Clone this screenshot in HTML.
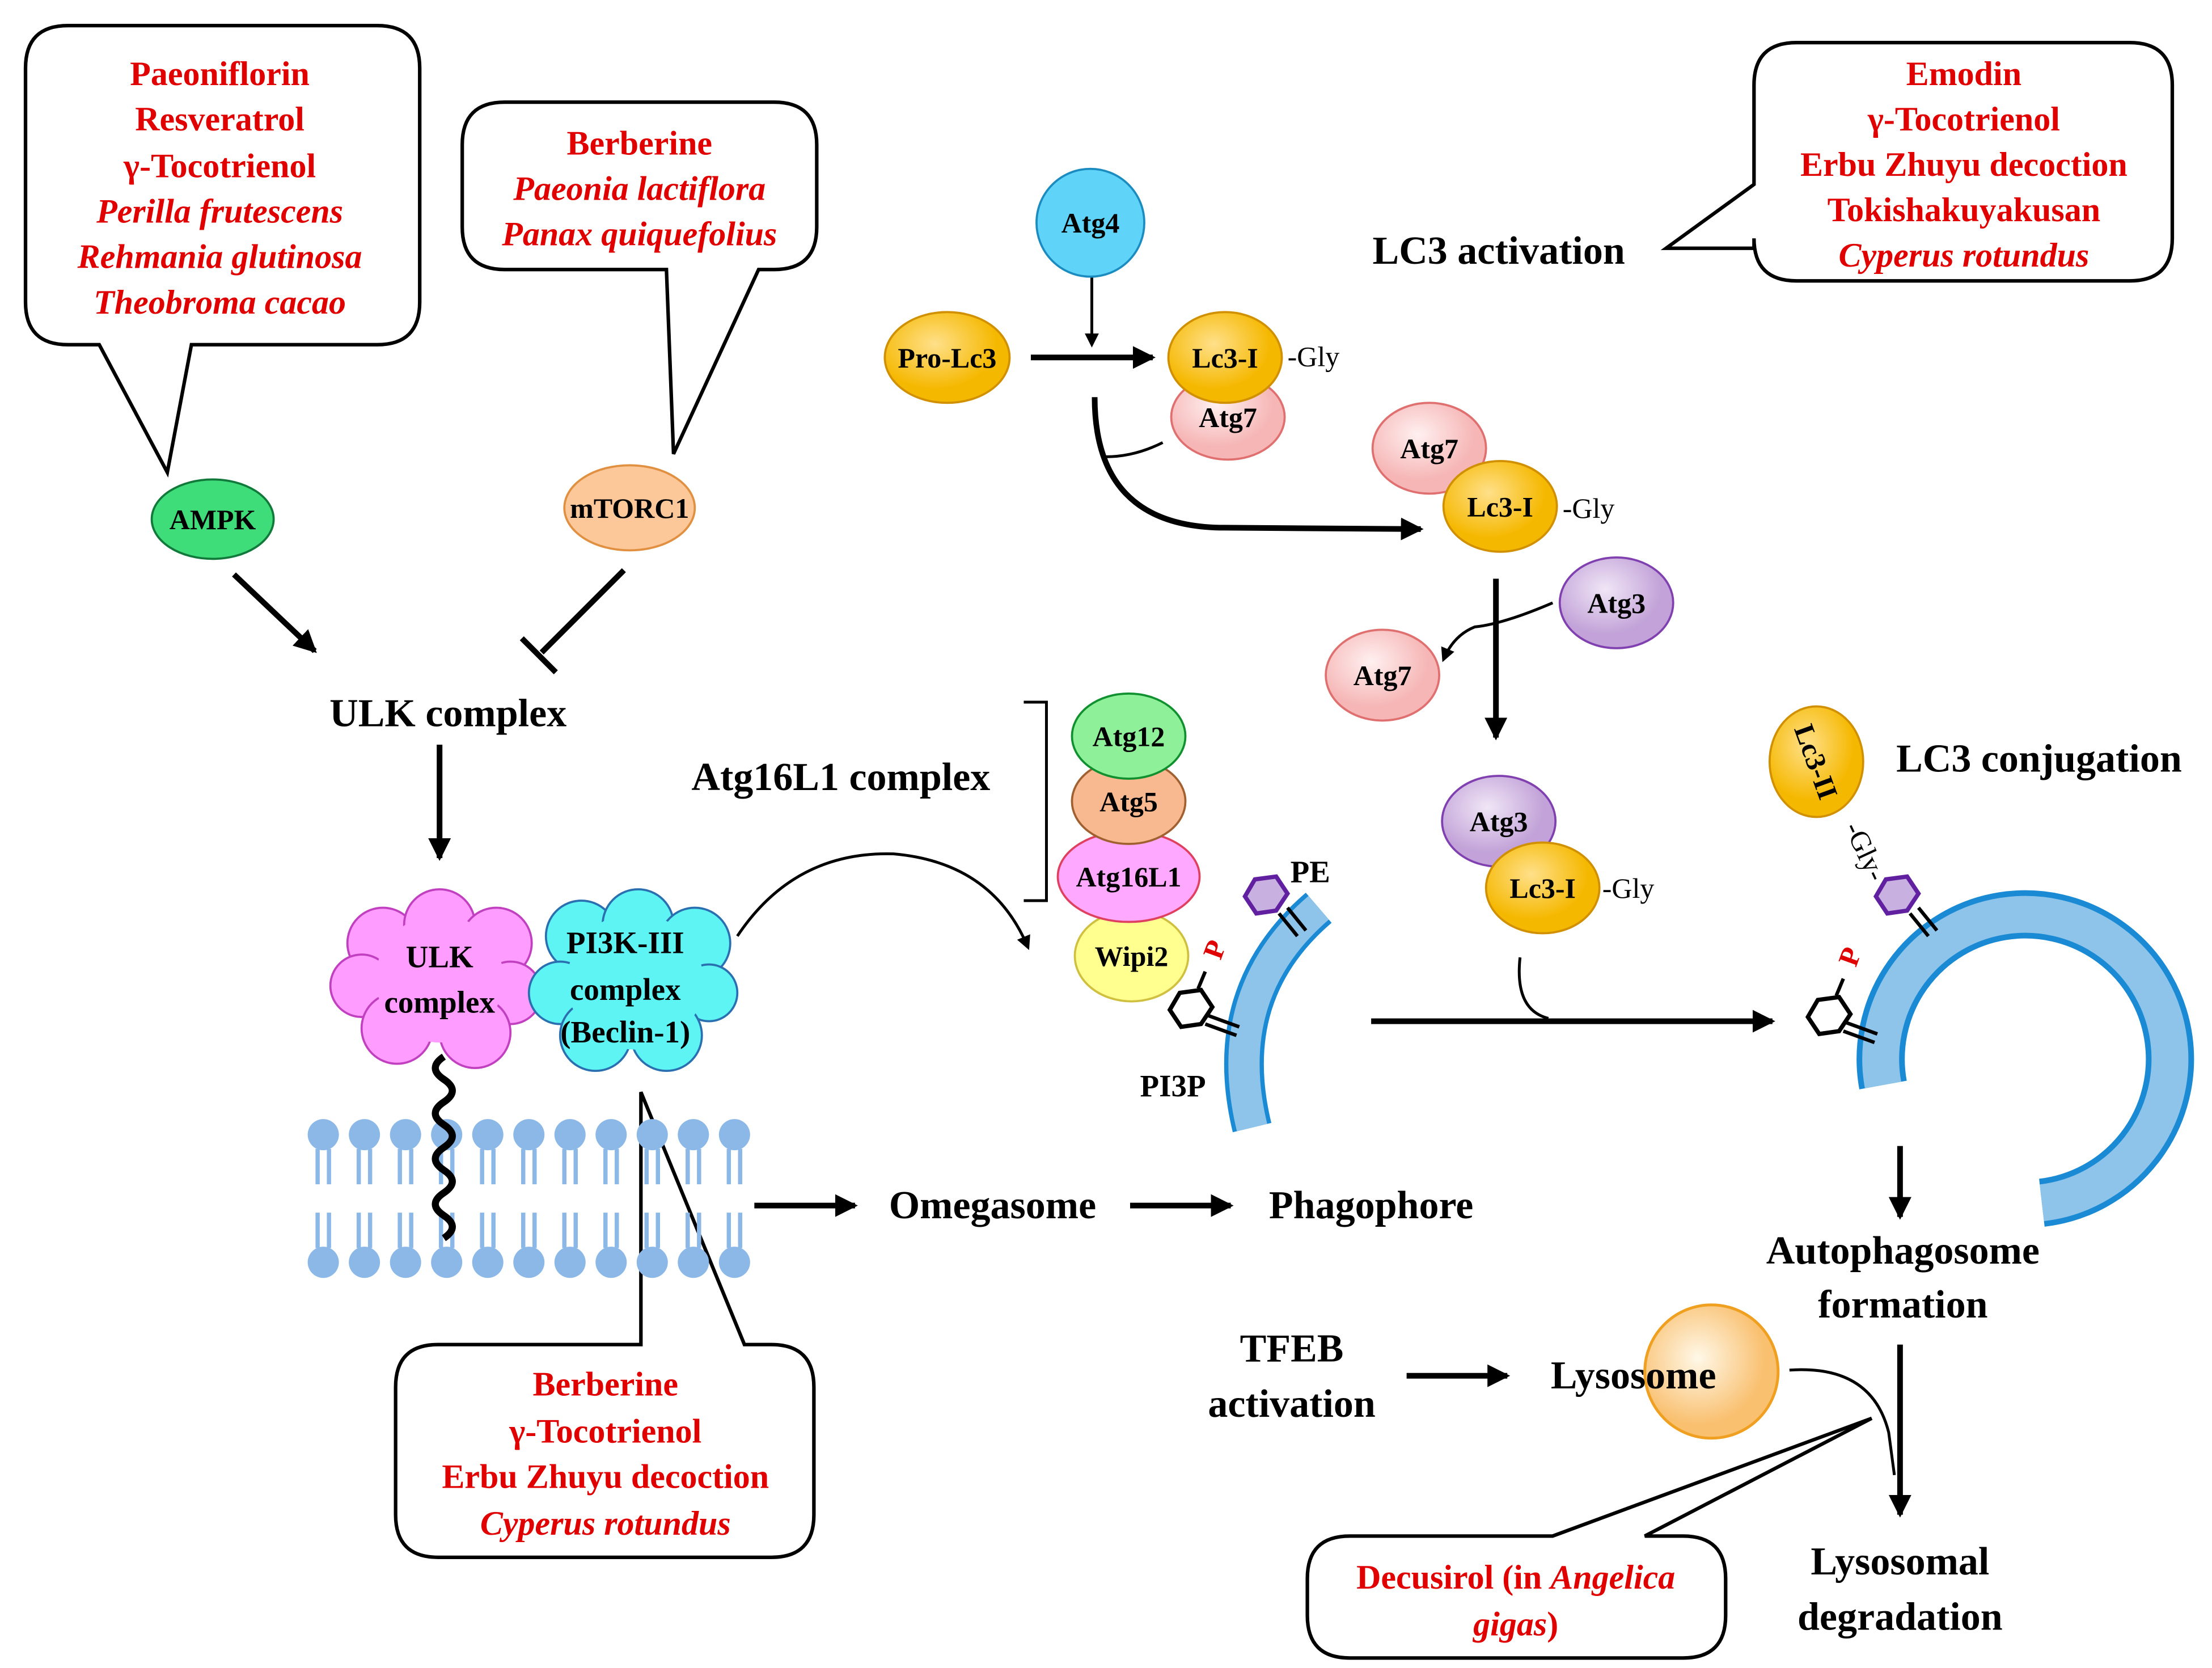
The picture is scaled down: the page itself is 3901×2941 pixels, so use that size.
<!DOCTYPE html>
<html><head><meta charset="utf-8"><style>html,body{margin:0;padding:0;background:#fff}svg{display:block}svg text{font-family:"Liberation Serif","DejaVu Serif",serif;font-weight:bold}</style></head>
<body>
<svg width="3901" height="2941" viewBox="0 0 1560 1176" xmlns="http://www.w3.org/2000/svg">
<defs>
<marker id="ah" markerWidth="10" markerHeight="10" refX="8" refY="5" orient="auto" markerUnits="userSpaceOnUse"><path d="M0,0 L10,5 L0,10 z" fill="#000"/></marker>
<marker id="ahs" markerWidth="16" markerHeight="16" refX="14" refY="8" orient="auto" markerUnits="userSpaceOnUse"><path d="M0,0 L16,8 L0,16 z" fill="#000"/></marker>
<radialGradient id="gOr" cx="40%" cy="35%"><stop offset="0" stop-color="#ffe08a"/><stop offset="1" stop-color="#f5b800"/></radialGradient>
<radialGradient id="gPk" cx="40%" cy="35%"><stop offset="0" stop-color="#fff0f0"/><stop offset="1" stop-color="#f6b6b6"/></radialGradient>
<radialGradient id="gPu" cx="40%" cy="35%"><stop offset="0" stop-color="#f0e6f6"/><stop offset="1" stop-color="#c2a2d8"/></radialGradient>
<radialGradient id="gLy" cx="40%" cy="40%"><stop offset="0" stop-color="#fff8e8"/><stop offset="1" stop-color="#f9c070"/></radialGradient>
</defs>
<g fill="none" stroke="#000" stroke-width="2.5">
<path d="M48,18 H266 Q296,18 296,48 V213 Q296,243 266,243 H135 L118,333 L70,243 H48 Q18,243 18,213 V48 Q18,18 48,18 Z" fill="#fff"/>
<path d="M356,72 H546 Q576,72 576,102 V160 Q576,190 546,190 H535 L475,320 L470,190 H356 Q326,190 326,160 V102 Q326,72 356,72 Z" fill="#fff"/>
<path d="M1267,30 H1502 Q1532,30 1532,60 V168 Q1532,198 1502,198 H1267 Q1237,198 1237,168 V175 L1175,175 L1237,130 V60 Q1237,30 1267,30 Z" fill="#fff"/>
<path d="M309,948 H452 V770 L525,948 H544 Q574,948 574,978 V1068 Q574,1098 544,1098 H309 Q279,1098 279,1068 V978 Q279,948 309,948 Z" fill="#fff"/>
<path d="M952,1083 H1095 L1320,1000 L1160,1083 H1187 Q1217,1083 1217,1113 V1139 Q1217,1169 1187,1169 H952 Q922,1169 922,1139 V1113 Q922,1083 952,1083 Z" fill="#fff"/>
</g>
<g fill="#e00000" font-size="24" text-anchor="middle">
<text x="155" y="60">Paeoniflorin</text><text x="155" y="92">Resveratrol</text><text x="155" y="125">γ-Tocotrienol</text>
<text x="155" y="157" font-style="italic">Perilla frutescens</text><text x="155" y="189" font-style="italic">Rehmania glutinosa</text><text x="155" y="221" font-style="italic">Theobroma cacao</text>
<text x="451" y="109">Berberine</text><text x="451" y="141" font-style="italic">Paeonia lactiflora</text><text x="451" y="173" font-style="italic">Panax quiquefolius</text>
<text x="1385" y="60">Emodin</text><text x="1385" y="92">γ-Tocotrienol</text><text x="1385" y="124">Erbu Zhuyu decoction</text><text x="1385" y="156">Tokishakuyakusan</text><text x="1385" y="188" font-style="italic">Cyperus rotundus</text>
<text x="427" y="984">Berberine</text><text x="427" y="1017">γ-Tocotrienol</text><text x="427" y="1049">Erbu Zhuyu decoction</text><text x="427" y="1082" font-style="italic">Cyperus rotundus</text>
<text x="1069" y="1120">Decusirol (in <tspan font-style="italic">Angelica</tspan></text><text x="1069" y="1153" font-style="italic">gigas<tspan font-style="normal">)</tspan></text>
</g>
<g font-size="28" text-anchor="middle" fill="#000">
<text x="1057" y="186">LC3 activation</text>
<text x="316" y="512">ULK complex</text>
<text x="593" y="557">Atg16L1 complex</text>
<text x="700" y="859">Omegasome</text>
<text x="967" y="859">Phagophore</text>
<text x="1438" y="544">LC3 conjugation</text>
<text x="1342" y="891">Autophagosome</text><text x="1342" y="929">formation</text>
<text x="911" y="960">TFEB</text><text x="911" y="999">activation</text>
<text x="1340" y="1110">Lysosomal</text><text x="1340" y="1149">degradation</text>
</g>
<g stroke="#000" stroke-width="4" fill="none">
<line x1="165" y1="405" x2="222" y2="459" marker-end="url(#ahs)"/>
<line x1="440" y1="402" x2="382" y2="460"/><line x1="368" y1="450" x2="392" y2="474"/>
<line x1="310" y1="525" x2="310" y2="605" marker-end="url(#ahs)"/>
<line x1="532" y1="850" x2="603" y2="850" marker-end="url(#ahs)"/>
<line x1="797" y1="850" x2="868" y2="850" marker-end="url(#ahs)"/>
<line x1="727" y1="252" x2="813" y2="252" marker-end="url(#ahs)"/>
<path d="M772,280 Q772,370 860,372 L1002,373" marker-end="url(#ahs)"/>
<line x1="1055" y1="408" x2="1055" y2="520" marker-end="url(#ahs)"/>
<line x1="967" y1="720" x2="1250" y2="720" marker-end="url(#ahs)"/>
<line x1="1340" y1="808" x2="1340" y2="858" marker-end="url(#ahs)"/>
<line x1="992" y1="970" x2="1063" y2="970" marker-end="url(#ahs)"/>
<line x1="1340" y1="948" x2="1340" y2="1068" marker-end="url(#ahs)"/>
</g>
<g stroke="#000" stroke-width="2" fill="none">
<line x1="770" y1="195" x2="770" y2="243" marker-end="url(#ah)"/>
<path d="M780,322 Q800,322 820,312"/>
<path d="M1095,425 Q1060,440 1040,442 Q1025,448 1018,465" marker-end="url(#ah)"/>
<path d="M1072,675 Q1068,712 1092,718"/>
<path d="M520,660 Q560,600 630,602 Q700,608 725,668" marker-end="url(#ah)"/>
<path d="M1262,966 Q1320,962 1332,1010 L1336,1040"/>
<path d="M722,495 H738 V635 H722"/>
</g>
<g stroke="#8cb8e8" stroke-width="3" fill="#8cb8e8">
<g id="lip"><circle cx="228" cy="800" r="11" stroke="none"/><line x1="224" y1="810" x2="224" y2="835"/><line x1="232" y1="810" x2="232" y2="835"/><circle cx="228" cy="890" r="11" stroke="none"/><line x1="224" y1="855" x2="224" y2="880"/><line x1="232" y1="855" x2="232" y2="880"/></g>
<use href="#lip" x="29"/><use href="#lip" x="58"/><use href="#lip" x="87"/><use href="#lip" x="116"/><use href="#lip" x="145"/><use href="#lip" x="174"/><use href="#lip" x="203"/><use href="#lip" x="232"/><use href="#lip" x="261"/><use href="#lip" x="290"/>
</g>
<path d="M313,745 q-12,8 0,16 q12,8 0,16 q-12,8 0,16 q12,8 0,16 q-12,8 0,16 q12,8 0,16 q-12,8 0,16 q12,8 0,16" stroke="#000" stroke-width="5" fill="none"/>
<g stroke="#c040c0" stroke-width="1.5" fill="#ff9cff">
<circle cx="270" cy="665" r="25"/><circle cx="310" cy="652" r="25"/><circle cx="350" cy="665" r="25"/><circle cx="255" cy="695" r="22"/><circle cx="360" cy="700" r="22"/><circle cx="280" cy="725" r="25"/><circle cx="335" cy="728" r="25"/><circle cx="310" cy="690" r="45" stroke="none"/>
</g>
<g stroke="#2a70b0" stroke-width="1.5" fill="#5ff4f4">
<circle cx="410" cy="660" r="25"/><circle cx="450" cy="652" r="25"/><circle cx="490" cy="665" r="25"/><circle cx="395" cy="700" r="22"/><circle cx="500" cy="700" r="20"/><circle cx="420" cy="730" r="25"/><circle cx="470" cy="730" r="25"/><circle cx="448" cy="692" r="48" stroke="none"/>
</g>
<g font-size="22" text-anchor="middle"><text x="310" y="682">ULK</text><text x="310" y="714">complex</text>
<text x="441" y="672">PI3K-III</text><text x="441" y="705">complex</text><text x="441" y="735">(Beclin-1)</text></g>
<g stroke-width="1.5" font-size="20" text-anchor="middle">
<ellipse cx="150" cy="366" rx="43" ry="28" fill="#3fdc7a" stroke="#117a3a"/><text x="150" y="373">AMPK</text>
<ellipse cx="444" cy="358" rx="46" ry="30" fill="#fcc89a" stroke="#e09040"/><text x="444" y="365">mTORC1</text>
<ellipse cx="769" cy="157" rx="38" ry="38" fill="#5fd4f8" stroke="#1c8cc0"/><text x="769" y="164">Atg4</text>
<ellipse cx="668" cy="252" rx="44" ry="32" fill="url(#gOr)" stroke="#d09000"/><text x="668" y="259">Pro-Lc3</text>
<ellipse cx="866" cy="294" rx="40" ry="30" fill="url(#gPk)" stroke="#e07070"/><text x="866" y="301">Atg7</text>
<ellipse cx="864" cy="252" rx="40" ry="32" fill="url(#gOr)" stroke="#d09000"/><text x="864" y="259">Lc3-I</text>
<ellipse cx="1008" cy="316" rx="40" ry="32" fill="url(#gPk)" stroke="#e07070"/><text x="1008" y="323">Atg7</text>
<ellipse cx="1058" cy="357" rx="40" ry="32" fill="url(#gOr)" stroke="#d09000"/><text x="1058" y="364">Lc3-I</text>
<ellipse cx="1140" cy="425" rx="40" ry="32" fill="url(#gPu)" stroke="#8040b0"/><text x="1140" y="432">Atg3</text>
<ellipse cx="975" cy="476" rx="40" ry="32" fill="url(#gPk)" stroke="#e07070"/><text x="975" y="483">Atg7</text>
<ellipse cx="1057" cy="579" rx="40" ry="32" fill="url(#gPu)" stroke="#8040b0"/><text x="1057" y="586">Atg3</text>
<ellipse cx="1088" cy="626" rx="40" ry="32" fill="url(#gOr)" stroke="#d09000"/><text x="1088" y="633">Lc3-I</text>
<ellipse cx="798" cy="674" rx="40" ry="32" fill="#ffff90" stroke="#d0c040"/><text x="798" y="681">Wipi2</text>
<ellipse cx="796" cy="618" rx="50" ry="32" fill="#ffa8ff" stroke="#e04060"/><text x="796" y="625">Atg16L1</text>
<ellipse cx="796" cy="565" rx="40" ry="30" fill="#f8b890" stroke="#a06030"/><text x="796" y="572">Atg5</text>
<ellipse cx="796" cy="519" rx="40" ry="30" fill="#8ff09a" stroke="#119030"/><text x="796" y="526">Atg12</text>
<ellipse cx="1281" cy="537" rx="33" ry="39" fill="url(#gOr)" stroke="#d09000"/><text x="1281" y="544" transform="rotate(70 1281 537)">Lc3-II</text>
</g>
<g font-weight="normal" font-size="20"><text x="908" y="258" style="font-weight:normal">-Gly</text><text x="1102" y="365" style="font-weight:normal">-Gly</text><text x="1130" y="633" style="font-weight:normal">-Gly</text>
<text x="1316" y="607" text-anchor="middle" transform="rotate(65 1316 600)" style="font-weight:normal">-Gly-</text></g>
<path d="M883,795 Q860,700 930,640" stroke="#1a8ad4" stroke-width="28" fill="none"/>
<path d="M883,795 Q860,700 930,640" stroke="#8ec4ea" stroke-width="22" fill="none"/>
<path d="M1328,765 A102,102 0 1 1 1440,848" stroke="#1a8ad4" stroke-width="34" fill="none"/>
<path d="M1328,765 A102,102 0 1 1 1440,848" stroke="#8ec4ea" stroke-width="26" fill="none"/>
<g stroke="#6020a0" stroke-width="3" fill="#c8b0e0">
<polygon points="885,620 900,618 908,630 900,642 886,644 878,632"/>
<polygon points="1330,620 1345,618 1353,630 1345,642 1331,644 1323,632"/>
</g>
<g stroke="#000" stroke-width="3" fill="#fff">
<polygon points="832,700 847,698 855,710 847,722 833,724 825,712"/>
<polygon points="1282,705 1297,703 1305,715 1297,727 1283,729 1275,717"/>
</g>
<g stroke="#000" stroke-width="2.5">
<line x1="902" y1="644" x2="915" y2="660"/><line x1="908" y1="640" x2="921" y2="656"/>
<line x1="1347" y1="644" x2="1360" y2="660"/><line x1="1353" y1="640" x2="1366" y2="656"/>
<line x1="850" y1="722" x2="872" y2="730"/><line x1="852" y1="716" x2="874" y2="724"/>
<line x1="1300" y1="727" x2="1322" y2="735"/><line x1="1302" y1="721" x2="1324" y2="729"/>
<line x1="845" y1="697" x2="850" y2="685"/><line x1="1295" y1="702" x2="1300" y2="690"/>
</g>
<g fill="#e00000" font-size="20"><text x="850" y="678" transform="rotate(-70 855 670)">P</text><text x="1298" y="683" transform="rotate(-70 1303 675)">P</text></g>
<g font-size="22"><text x="910" y="622">PE</text><text x="804" y="773">PI3P</text></g>
<circle cx="1207" cy="967" r="47" fill="url(#gLy)" stroke="#f0a020" stroke-width="2"/>
<text x="1152" y="979" font-size="28" text-anchor="middle">Lysosome</text>
</svg>
</body></html>
